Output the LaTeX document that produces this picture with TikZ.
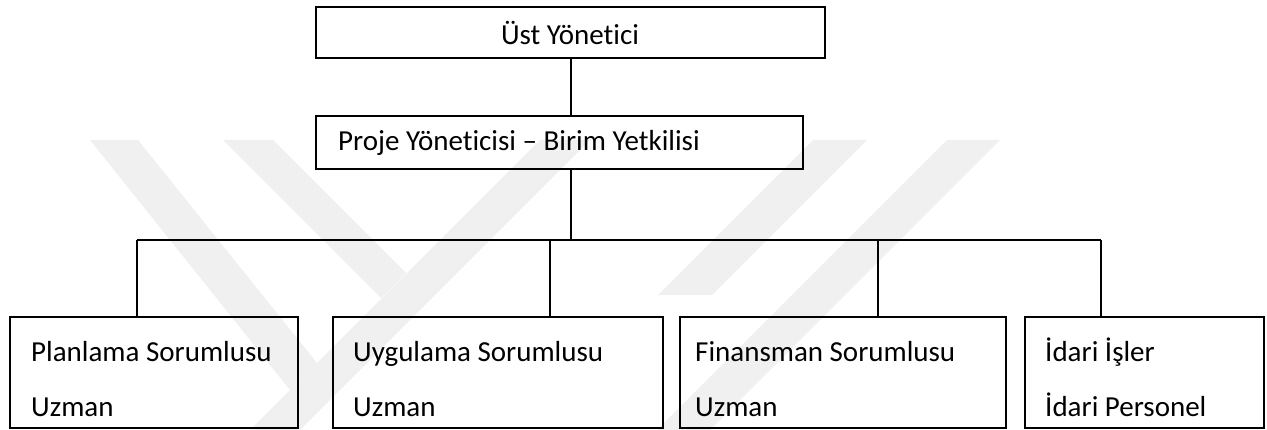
\documentclass[tikz,border=0pt]{standalone}
\usepackage{fontspec}
\setmainfont{Carlito}[Ligatures=NoCommon]
\begin{document}
\begin{tikzpicture}[x=1pt,y=-1pt,
  box/.style={draw=black, line width=1.8pt, rectangle, inner sep=0pt},
  link/.style={draw=black, line width=1.3pt},
  lbl/.style={font=\fontsize{29}{35}\selectfont, inner sep=0pt, anchor=base west},
  emblem/.style={fill=black!6, draw=none}]
  % canvas
  \useasboundingbox (0,0) rectangle (1267,430);
  \fill[white] (0,0) rectangle (1267,430);

  % faint background emblem: diagonal stripes
  \begin{scope}
    \clip (0,0) rectangle (1267,430);
    % rising stripe that closes the two falling ones
    \fill[emblem] (540,140) -- (590,140) -- (300,430) -- (250,430) -- cycle;
    % falling stripes, cut off by the rising one
    \fill[emblem] (90,140) -- (138,140) -- (317,363) -- (290,390) -- cycle;
    \fill[emblem] (223,140) -- (273,140) -- (406,273) -- (381,298) -- cycle;
    % rising stripes on the right
    \fill[emblem] (813,140) -- (867,140) -- (712,295) -- (658,295) -- cycle;
    \fill[emblem] (947,140) -- (1000,140) -- (710,430) -- (657,430) -- cycle;
  \end{scope}

  % boxes
  \node[box, minimum width=509pt, minimum height=51pt] (top) at (570.5,32.5) {};
  \node[box, minimum width=487pt, minimum height=53pt] (pm) at (559.5,142.5) {};
  \node[box, minimum width=288pt, minimum height=111pt] (b1) at (154,372.5) {};
  \node[box, minimum width=330pt, minimum height=111pt] (b2) at (498,372.5) {};
  \node[box, minimum width=326pt, minimum height=111pt] (b3) at (843,372.5) {};
  \node[box, minimum width=239pt, minimum height=111pt] (b4) at (1144.5,372.5) {};

  % texts
  \node[font=\fontsize{29}{35}\selectfont, inner sep=0pt, anchor=base] (tt) at (570,45) {Üst Yönetici};
  \node[lbl] (pmt) at (338,151) {Proje Yöneticisi – Birim Yetkilisi};
  \node[lbl] (t1a) at (31,362) {Planlama Sorumlusu};
  \node[lbl] (t1b) at (31,416) {Uzman};
  \node[lbl] (t2a) at (353,362) {Uygulama Sorumlusu};
  \node[lbl] (t2b) at (353,416) {Uzman};
  \node[lbl] (t3a) at (695,362) {Finansman Sorumlusu};
  \node[lbl] (t3b) at (695,416) {Uzman};
  \node[lbl] (t4a) at (1045,362) {İdari İşler};
  \node[lbl] (t4b) at (1045,416) {İdari Personel};

  % connectors
  \coordinate (j0) at (571,240);
  \coordinate (j1) at (137,240);
  \coordinate (j2) at (550,240);
  \coordinate (j3) at (878,240);
  \coordinate (j4) at (1101,240);
  \draw[link] (top.south -| j0) -- (pm.north -| j0);
  \draw[link] (pm.south -| j0) -- (j0);
  \draw[link] (j1) -- (j4);
  \draw[link] (j1) -- (j1 |- b1.north);
  \draw[link] (j2) -- (j2 |- b2.north);
  \draw[link] (j3) -- (j3 |- b3.north);
  \draw[link] (j4) -- (j4 |- b4.north);
\end{tikzpicture}
\end{document}
